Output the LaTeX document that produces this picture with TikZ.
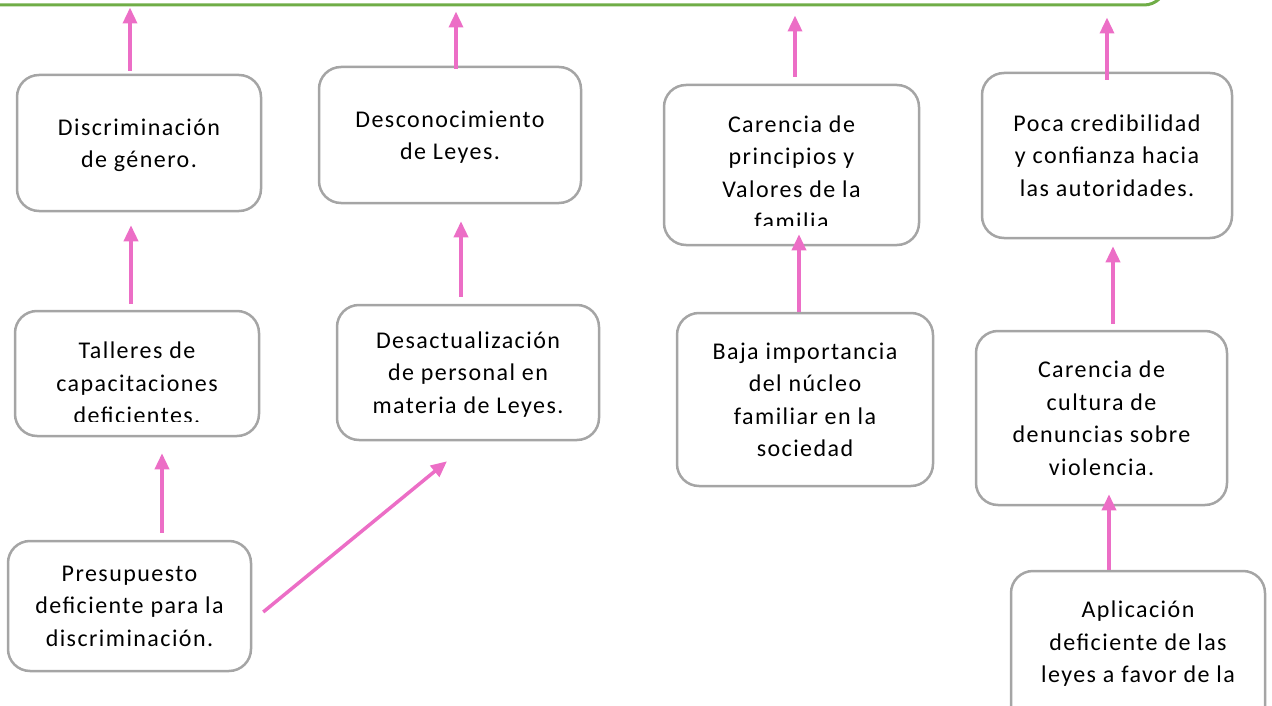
\documentclass[tikz,border=0pt]{standalone}
\usepackage{fontspec}
\setmainfont{Carlito}[LetterSpace=6]
\usetikzlibrary{arrows.meta,positioning}
\definecolor{boxgray}{RGB}{165,165,165}
\definecolor{arrowpink}{RGB}{236,110,198}
\definecolor{topgreen}{RGB}{112,173,71}

\begin{document}
\begin{tikzpicture}[x=1pt,y=-1pt,
  box/.style={draw=boxgray,line width=2.5pt,rounded corners=22pt,align=center,inner sep=0pt,
    text depth=-9pt,font=\fontsize{24}{32.5}\selectfont},
  txt/.style={align=center,inner sep=0pt,font=\fontsize{24}{32.5}\selectfont},
  arr/.style={draw=arrowpink,line width=3.5pt,-{Triangle[width=14pt,length=16pt]}}]
\useasboundingbox (0,0) rectangle (1272,706);
% top box, only its lower edge shows
\node[draw=topgreen,line width=3pt,rounded corners=22pt,minimum width=1332pt,minimum height=130pt] (prob) at (500,-60) {};

% first row
\node[box,minimum width=244pt,minimum height=136pt] (disc) at (139,143) {Discriminación\\de género.};
\node[box,minimum width=262pt,minimum height=136pt] (desc) at (450,135) {Desconocimiento\\de Leyes.};
\node[box,minimum width=255pt,minimum height=160pt] (valores) at (791.5,165) {};
\begin{scope}
\clip (valores.north west) rectangle ([yshift=21pt]valores.south east);
\node[txt] (valorestxt) at (791.5,173) {Carencia de\\principios y\\Valores de la\\familia};
\end{scope}
\node[box,minimum width=250pt,minimum height=165pt] (cred) at (1107,155.5) {Poca credibilidad\\y confianza hacia\\las autoridades.};

% second row
\node[box,minimum width=244pt,minimum height=125pt] (talleres) at (137,373.5) {};
\begin{scope}
\clip (talleres.north west) rectangle ([yshift=16pt]talleres.south east);
\node[txt] (tallerestxt) at (137,383) {Talleres de\\capacitaciones\\deficientes.};
\end{scope}
\node[box,minimum width=262pt,minimum height=135pt] (desact) at (468,372.5) {Desactualización\\de personal en\\materia de Leyes.};
\node[box,minimum width=256pt,minimum height=173pt] (nucleo) at (805,399.5) {Baja importancia\\del núcleo\\familiar en la\\sociedad};
\node[box,minimum width=251pt,minimum height=174pt] (denun) at (1101.5,418) {Carencia de\\cultura de\\denuncias sobre\\violencia.};

% third row
\node[box,minimum width=243pt,minimum height=130pt] (presup) at (129.5,606) {Presupuesto\\deficiente para la\\discriminación.};
\node[box,minimum width=254pt,minimum height=170pt] (aplic) at (1138,656) {};
\node[txt] (aplictxt) at (1138,644) {Aplicación\\deficiente de las\\leyes a favor de la};

% arrows
\draw[arr] ([xshift=-9pt,yshift=3pt]disc.north) -- ([xshift=-9pt,yshift=-1pt]disc.north |- prob.south);
\draw[arr] ([xshift=6pt,yshift=-3pt]desc.north) -- ([xshift=6pt,yshift=-5pt]desc.north |- prob.south);
\draw[arr] ([xshift=3.5pt,yshift=7pt]valores.north) -- ([xshift=3.5pt,yshift=-9pt]valores.north |- prob.south);
\draw[arr] ([yshift=-8pt]cred.north) -- ([yshift=-11pt]cred.north |- prob.south);

\draw[arr] ([xshift=-6pt,yshift=6pt]talleres.north) -- ([xshift=-8pt,yshift=-13pt]disc.south);
\draw[arr] ([xshift=-7pt,yshift=7pt]desact.north) -- ([xshift=11pt,yshift=-17pt]desc.south);
\draw[arr] ([xshift=-6pt]nucleo.north) -- ([xshift=7.5pt,yshift=12pt]valores.south);
\draw[arr] ([xshift=11.5pt,yshift=6pt]denun.north) -- ([xshift=6pt,yshift=-7pt]cred.south);

\draw[arr] ([xshift=32.5pt,yshift=7pt]presup.north) -- ([xshift=25pt,yshift=-16pt]talleres.south);
\draw[arr] ([xshift=11pt,yshift=-6pt]presup.east) -- ([xshift=-21pt,yshift=-20pt]desact.south);
\draw[arr] ([xshift=-29pt]aplic.north) -- ([xshift=7.5pt,yshift=12pt]denun.south);
\end{tikzpicture}
\end{document}
